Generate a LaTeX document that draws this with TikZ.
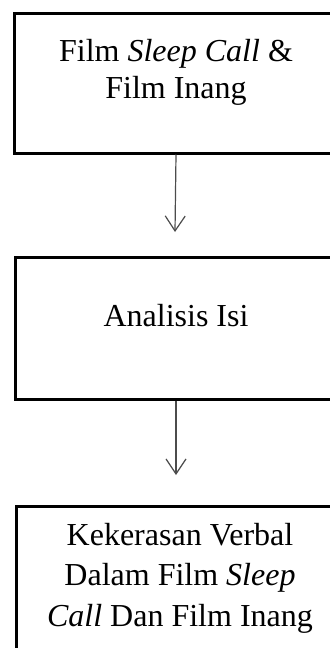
\documentclass[tikz,border=0pt]{standalone}
\usepackage{fontspec}
\setmainfont{Liberation Serif}
\usetikzlibrary{positioning,arrows.meta}

\begin{document}
\begin{tikzpicture}[x=0.5pt,y=-0.5pt,>={Straight Barb[length=7.5pt,width=10pt]}]

\tikzstyle{box}=[draw,line width=1.5pt,inner sep=0pt]
\tikzstyle{txt}=[align=center,anchor=base,inner sep=0pt]
\tikzstyle{link}=[->,line width=0.6pt,draw=black!70]

\useasboundingbox (0,0) rectangle (330,648);
\clip (0,0) rectangle (330,648);

% boxes
\node[box,minimum width=162pt,minimum height=70pt] (film) at (176,83) {};
\node[box,minimum width=161pt,minimum height=71pt] (analisis) at (176,328) {};
\node[box,minimum width=164pt,minimum height=85pt] (hasil) at (180,591) {};

% texts (anchor base = last line)
\node[txt,font=\fontsize{16}{18.5}\selectfont] (filmtxt) at ([yshift=-43.5pt]film.north)
    {Film \textit{Sleep Call} \&\\Film Inang};
\node[txt,font=\fontsize{16}{18.5}\selectfont] (analisistxt) at ([yshift=-35.5pt]analisis.north)
    {Analisis Isi};
\node[txt,font=\fontsize{16}{20.3}\selectfont] (hasiltxt) at ([yshift=-61pt]hasil.north)
    {Kekerasan Verbal\\Dalam Film \textit{Sleep}\\\textit{Call} Dan Film Inang};

% arrows
\coordinate (tip1) at (175,232);
\coordinate (tip2) at (176,475);
\draw[link] (film.south) -- (tip1);
\draw[link] (analisis.south) -- (tip2);

\end{tikzpicture}
\end{document}
